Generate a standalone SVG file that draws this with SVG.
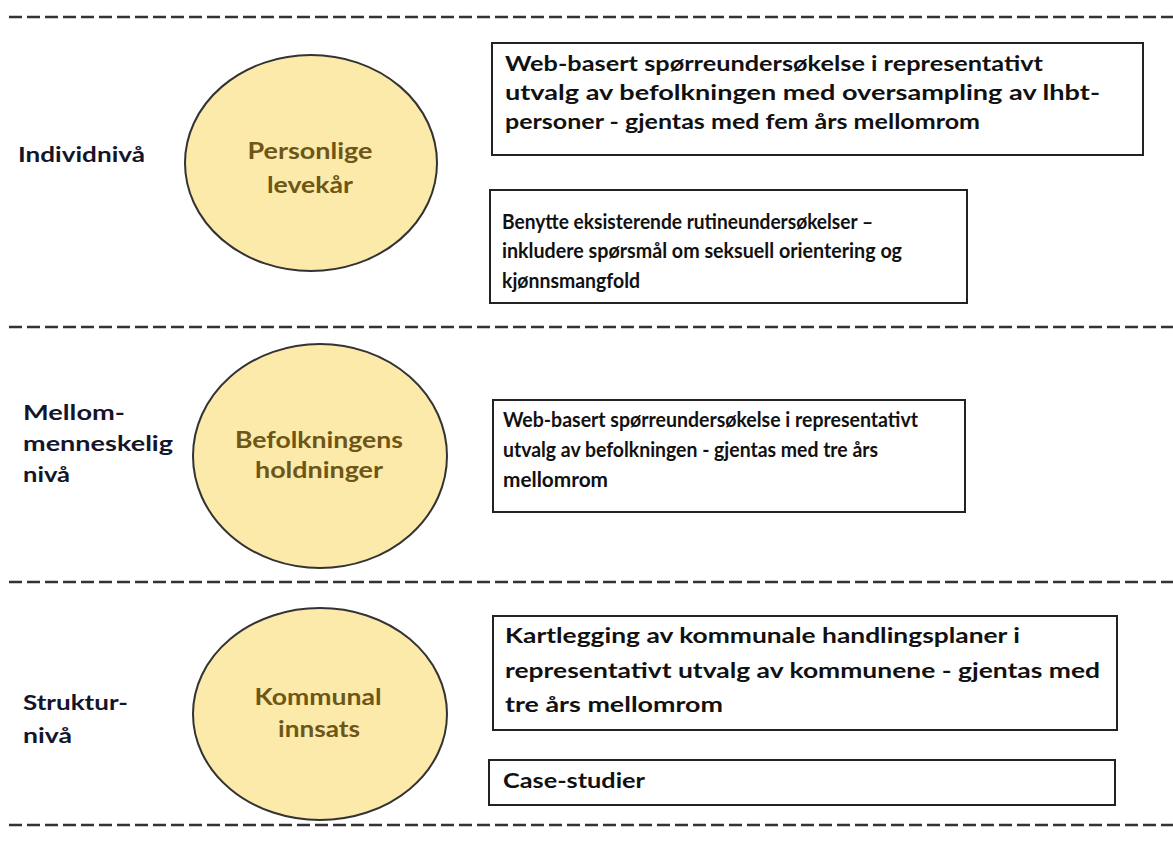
<svg xmlns="http://www.w3.org/2000/svg" width="1173" height="841" viewBox="0 0 1173 841">
<style>
.sep{stroke:#333;stroke-width:2.5;stroke-dasharray:13 5;fill:none}
.ell{fill:#FCEAAB;stroke:#333;stroke-width:2}
.box{fill:#fff;stroke:#222;stroke-width:2}
.ct{font-family:Lato,"Open Sans",sans-serif;font-weight:bold;font-size:23px;fill:#6E5616;text-anchor:middle}
.lb{font-family:Lato,"Open Sans",sans-serif;font-weight:bold;font-size:20px;fill:#15152a}
.bt{font-family:Lato,"Open Sans",sans-serif;font-weight:bold;font-size:20px;fill:#111}
.bs{font-family:Lato,"Open Sans",sans-serif;font-weight:bold;font-size:21px;fill:#111}
</style>
<rect width="1173" height="841" fill="#fff"/>
<g id="separators">
<line class="sep" x1="9" y1="17" x2="1173" y2="17"/>
<line class="sep" x1="9" y1="327" x2="1173" y2="327"/>
<line class="sep" x1="9" y1="582" x2="1173" y2="582"/>
<line class="sep" x1="9" y1="825" x2="1173" y2="825"/>
</g>
<g id="labels">
<text class="lb" x="18" y="162" textLength="127" lengthAdjust="spacingAndGlyphs">Individnivå</text>
<text class="lb" x="23" y="420" textLength="102" lengthAdjust="spacingAndGlyphs">Mellom-</text>
<text class="lb" x="23" y="451" textLength="150" lengthAdjust="spacingAndGlyphs">menneskelig</text>
<text class="lb" x="23" y="482" textLength="47" lengthAdjust="spacingAndGlyphs">nivå</text>
<text class="lb" x="23" y="710" textLength="105" lengthAdjust="spacingAndGlyphs">Struktur-</text>
<text class="lb" x="23" y="743" textLength="49" lengthAdjust="spacingAndGlyphs">nivå</text>
</g>
<g id="node-personlige">
<ellipse class="ell" cx="311" cy="163" rx="126" ry="108"/>
<text class="ct" x="310" y="159" textLength="125" lengthAdjust="spacingAndGlyphs">Personlige</text>
<text class="ct" x="310" y="193" textLength="86" lengthAdjust="spacingAndGlyphs">levekår</text>
</g>
<g id="node-befolkningens">
<ellipse class="ell" cx="320" cy="456" rx="127" ry="112"/>
<text class="ct" x="319" y="448" textLength="168" lengthAdjust="spacingAndGlyphs">Befolkningens</text>
<text class="ct" x="319" y="478" textLength="128" lengthAdjust="spacingAndGlyphs">holdninger</text>
</g>
<g id="node-kommunal">
<ellipse class="ell" cx="320" cy="714" rx="127" ry="106"/>
<text class="ct" x="318" y="705" textLength="127" lengthAdjust="spacingAndGlyphs">Kommunal</text>
<text class="ct" x="319" y="737" textLength="82" lengthAdjust="spacingAndGlyphs">innsats</text>
</g>
<g id="box-web1">
<rect class="box" x="492" y="43" width="651" height="112"/>
<text class="bt" x="505" y="71" textLength="538" lengthAdjust="spacingAndGlyphs">Web-basert spørreundersøkelse i representativt</text>
<text class="bt" x="505" y="100" textLength="595" lengthAdjust="spacingAndGlyphs">utvalg av befolkningen med oversampling av lhbt-</text>
<text class="bt" x="505" y="129" textLength="475" lengthAdjust="spacingAndGlyphs">personer - gjentas med fem års mellomrom</text>
</g>
<g id="box-rutine">
<rect class="box" x="490" y="190" width="477" height="113"/>
<text class="bs" x="502" y="229" textLength="371" lengthAdjust="spacingAndGlyphs">Benytte eksisterende rutineundersøkelser –</text>
<text class="bs" x="502" y="258" textLength="400" lengthAdjust="spacingAndGlyphs">inkludere spørsmål om seksuell orientering og</text>
<text class="bs" x="502" y="288" textLength="138" lengthAdjust="spacingAndGlyphs">kjønnsmangfold</text>
</g>
<g id="box-web2">
<rect class="box" x="493" y="400" width="472" height="112"/>
<text class="bs" x="503" y="427" textLength="415" lengthAdjust="spacingAndGlyphs">Web-basert spørreundersøkelse i representativt</text>
<text class="bs" x="503" y="457" textLength="375" lengthAdjust="spacingAndGlyphs">utvalg av befolkningen - gjentas med tre års</text>
<text class="bs" x="503" y="487" textLength="105" lengthAdjust="spacingAndGlyphs">mellomrom</text>
</g>
<g id="box-kartlegging">
<rect class="box" x="493" y="616" width="624" height="114"/>
<text class="bt" x="505" y="643" textLength="515" lengthAdjust="spacingAndGlyphs">Kartlegging av kommunale handlingsplaner i</text>
<text class="bt" x="505" y="678" textLength="595" lengthAdjust="spacingAndGlyphs">representativt utvalg av kommunene -  gjentas med</text>
<text class="bt" x="505" y="712" textLength="218" lengthAdjust="spacingAndGlyphs">tre års mellomrom</text>
</g>
<g id="box-case">
<rect class="box" x="489" y="760" width="626" height="45"/>
<text class="bt" x="503" y="788" textLength="142" lengthAdjust="spacingAndGlyphs">Case-studier</text>
</g>
</svg>
